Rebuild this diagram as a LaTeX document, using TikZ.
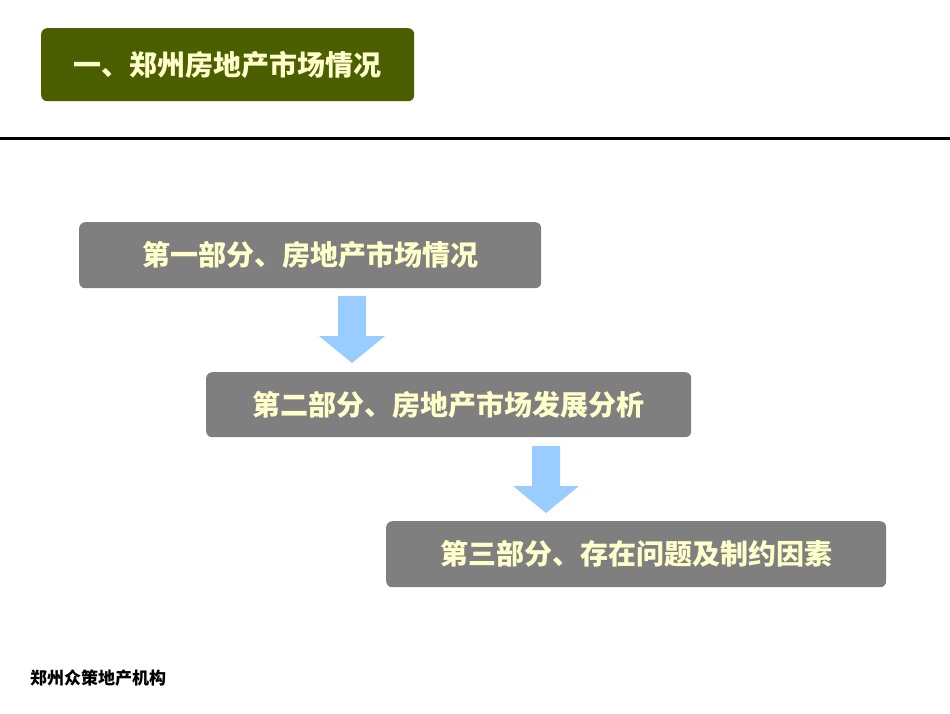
\documentclass[tikz,border=0pt]{standalone}
\usepackage{fontspec}
\newfontfamily\cjk{Noto Sans CJK SC}
\begin{document}
\begin{tikzpicture}[x=1pt,y=-1pt,
  box/.style={fill=boxgray,rounded corners=6pt,inner sep=0pt,text=cream,font=\cjk\bfseries\fontsize{28}{30}\selectfont},
  barrow/.style={fill=arrowblue,draw=none}]
\definecolor{boxgray}{HTML}{7F7F7F}
\definecolor{cream}{HTML}{FFFFCC}
\definecolor{olive}{HTML}{4B5F00}
\definecolor{arrowblue}{HTML}{99CCFF}
\useasboundingbox (0,0) rectangle (950,713);
\node[box,fill=olive,minimum width=373pt,minimum height=73pt,anchor=north west] (title) at (41,28) {一、郑州房地产市场情况};
\draw[line width=3pt] (0,138) -- (950,138);
\node[box,minimum width=462pt,minimum height=66pt,anchor=north west] (b1) at (79,222) {第一部分、房地产市场情况};
\node[box,minimum width=485pt,minimum height=65pt,anchor=north west] (b2) at (206,372) {第二部分、房地产市场发展分析};
\node[box,minimum width=500pt,minimum height=66pt,anchor=north west] (b3) at (386,521) {第三部分、存在问题及制约因素};
\fill[barrow] (338,296) -- (366,296) -- (366,336) -- (385,336) -- (352,363) -- (319,336) -- (338,336) -- cycle;
\fill[barrow] (532,446) -- (560,446) -- (560,486) -- (579,486) -- (546,513) -- (513,486) -- (532,486) -- cycle;
\node[anchor=west,inner sep=0pt,font=\cjk\bfseries\fontsize{17}{19}\selectfont] (foot) at (30,678) {郑州众策地产机构};
\end{tikzpicture}
\end{document}
